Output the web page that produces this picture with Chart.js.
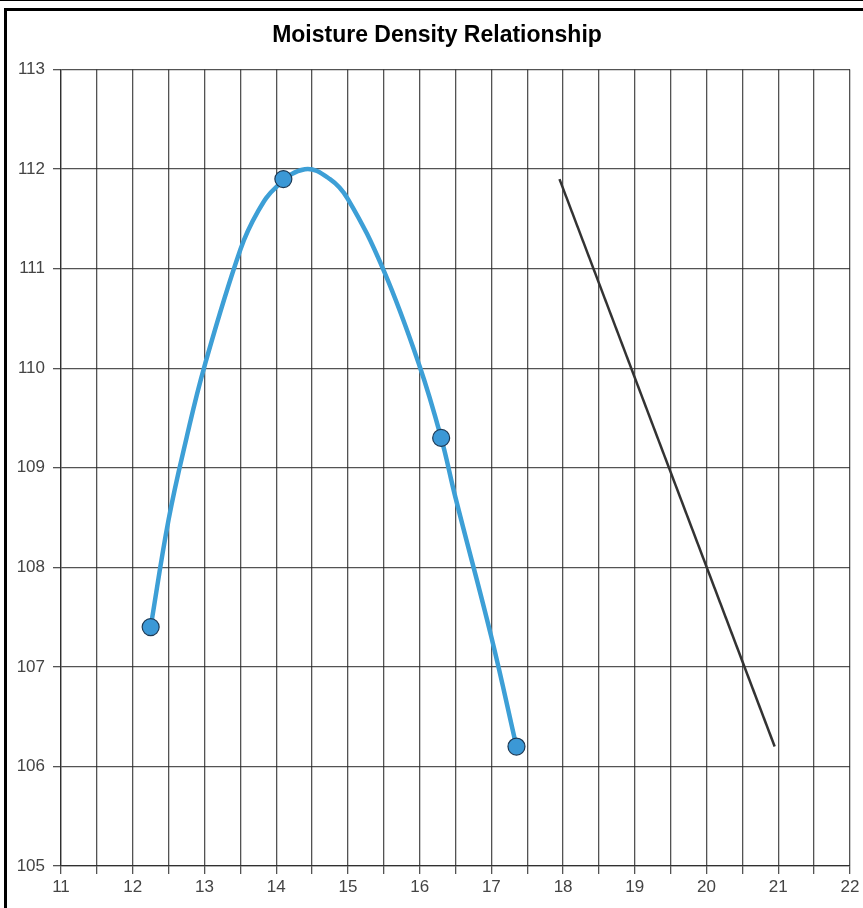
<!DOCTYPE html>
<html lang="en">

<head>
    <meta charset="UTF-8">
    <title>Moisture Density Relationship</title>
    <script src="https://cdn.jsdelivr.net/npm/chart.js"></script>
    <style>
        body {
            margin: 0;
            padding: 0;
            background-color: white;
            width: 863px;
            height: 908px;
            overflow: hidden;
            position: relative;
        }

        #topline {
            position: absolute;
            left: 0;
            top: 0;
            width: 863px;
            height: 1px;
            background-color: black;
        }

        #frame {
            position: absolute;
            left: 4px;
            top: 8px;
            width: 900px;
            height: 950px;
            border: 3px solid black;
            box-sizing: border-box;
        }

        #chart {
            position: absolute;
            left: 0;
            top: 0;
        }
    </style>
</head>

<body>
    <div id="topline"></div>
    <div id="frame"></div>
    <!-- canvas is a bit wider than the window, the right edge is cut off like in the original -->
    <canvas id="chart" width="874" height="908"></canvas>

    <script>
        // test points (moisture %, dry density)
        const moisture = [12.25, 14.1, 16.3, 17.35];
        const density = [107.4, 111.9, 109.3, 106.2];

        // fitted curve
        const curveX = [12.25, 12.5, 12.75, 13.0, 13.5, 13.75, 14.0, 14.4, 14.75, 15.0, 15.5, 16.0, 16.3, 16.5, 17.0, 17.35];
        const curveY = [107.4, 108.48, 109.3, 110.02, 111.19, 111.58, 111.82, 112.0, 111.9, 111.7, 110.98, 110.02, 109.3, 108.7, 107.3, 106.2];

        // zero air voids line
        const zavX = [17.95, 20.95];
        const zavY = [111.9, 106.2];

        const xMin = 11, xMax = 22;
        const yMin = 105, yMax = 113;

        function toPoints(xs, ys) {
            return xs.map((x, i) => ({ x: x, y: ys[i] }));
        }

        const gridColor = "rgba(40, 40, 40, 0.8)";
        const font = { family: "Arial, 'Liberation Sans', sans-serif", size: 17 };

        new Chart(document.getElementById("chart").getContext("2d"), {
            type: "scatter",
            data: {
                datasets: [
                    {
                        label: "Points",
                        data: toPoints(moisture, density),
                        backgroundColor: "#3b98d6",
                        borderColor: "#1e3a55",
                        borderWidth: 1.2,
                        pointRadius: 8.5,
                        order: 0,
                    },
                    {
                        label: "Curve",
                        data: toPoints(curveX, curveY),
                        showLine: true,
                        borderColor: "#3d9fd6",
                        borderWidth: 4.5,
                        pointRadius: 0,
                        tension: 0.4,
                        order: 1,
                    },
                    {
                        label: "ZAV",
                        data: toPoints(zavX, zavY),
                        showLine: true,
                        borderColor: "#333333",
                        borderWidth: 2.5,
                        pointRadius: 0,
                        order: 2,
                    },
                ],
            },
            options: {
                responsive: false,
                animation: false,
                layout: {
                    padding: 0,
                },
                plugins: {
                    legend: { display: false },
                    tooltip: { enabled: false },
                    title: {
                        display: true,
                        text: "Moisture Density Relationship",
                        color: "#000",
                        font: { family: font.family, size: 23, weight: "bold" },
                        padding: { top: 22, bottom: 20 },
                    },
                },
                scales: {
                    x: {
                        type: "linear",
                        min: xMin,
                        max: xMax,
                        afterFit: scale => { scale.height = 42; },
                        ticks: {
                            stepSize: 0.5,
                            color: "#444",
                            font: font,
                            padding: 3,
                            maxRotation: 0,
                            autoSkip: false,
                            callback: v => (Number.isInteger(v) ? v : ""),
                        },
                        grid: { color: gridColor, lineWidth: 1.3, tickLength: 8, tickColor: gridColor },
                        border: { color: gridColor, width: 1.3 },
                    },
                    y: {
                        type: "linear",
                        min: yMin,
                        max: yMax,
                        afterFit: scale => { scale.width = 61; },
                        ticks: {
                            stepSize: 1,
                            color: "#444",
                            font: font,
                            padding: 8,
                        },
                        grid: { color: gridColor, lineWidth: 1.3, tickLength: 8, tickColor: gridColor },
                        border: { color: gridColor, width: 1.3 },
                    },
                    // empty right axis, only keeps space so the title stays centred on the whole box
                    spacer: {
                        type: "linear",
                        position: "right",
                        min: yMin,
                        max: yMax,
                        afterFit: scale => { scale.width = 24; },
                        ticks: { display: false },
                        grid: { display: false, drawTicks: false },
                        border: { display: false },
                    },
                },
            },
        });
    </script>
</body>

</html>
